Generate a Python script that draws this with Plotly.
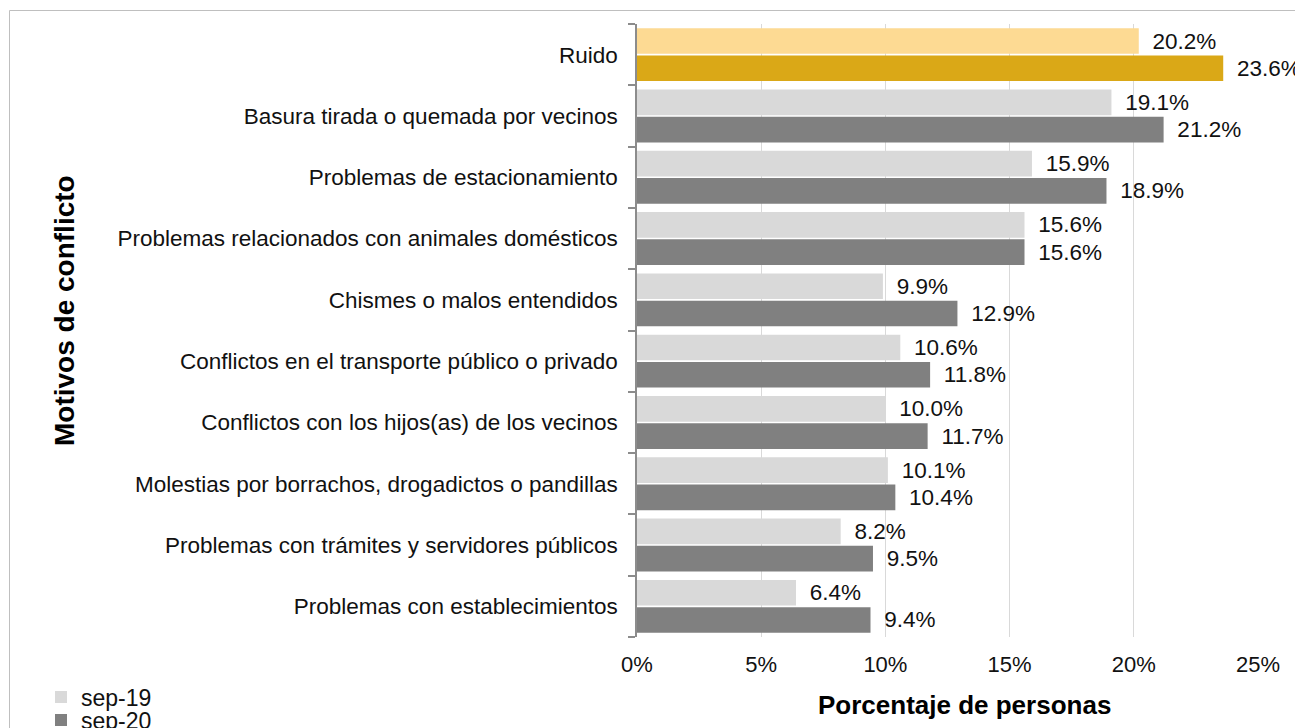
import plotly.graph_objects as go

# Data (listed bottom to top)
categories = [
    "Problemas con establecimientos",
    "Problemas con trámites y servidores públicos",
    "Molestias por borrachos, drogadictos o pandillas",
    "Conflictos con los hijos(as) de los vecinos",
    "Conflictos en el transporte público o privado",
    "Chismes o malos entendidos",
    "Problemas relacionados con animales domésticos",
    "Problemas de estacionamiento",
    "Basura tirada o quemada por vecinos",
    "Ruido",
]
sep19 = [6.4, 8.2, 10.1, 10.0, 10.6, 9.9, 15.6, 15.9, 19.1, 20.2]
sep20 = [9.4, 9.5, 10.4, 11.7, 11.8, 12.9, 15.6, 18.9, 21.2, 23.6]
x_ticks = [0, 5, 10, 15, 20, 25]
x_tick_labels = ["0%", "5%", "10%", "15%", "20%", "25%"]

highlight = "Ruido"
c19 = ["#FDDA93" if c == highlight else "#D9D9D9" for c in categories]
c20 = ["#DAA817" if c == highlight else "#808080" for c in categories]

FONT = "Liberation Sans, Arial, sans-serif"
TXT = "#111111"

OFF = 8  # page body margin
W, H = 1295, 720
L, R, T, B = 637 - OFF, W - (1258 - OFF), 24 - OFF, H - (637 - OFF)
pw, ph = W - L - R, H - T - B


def px(page_x):
    return (page_x - OFF - L) / pw


def py(page_y):
    return (H - B - (page_y - OFF)) / ph


fig = go.Figure()
fig.add_trace(go.Bar(
    y=categories, x=sep20, orientation="h", name="sep-20", legend="legend2",
    marker=dict(color=c20, line=dict(width=0)),
    text=[f" \u2009{v:.1f}%" for v in sep20], textposition="outside",
    textfont=dict(family=FONT, size=22.5, color=TXT), cliponaxis=False,
))
fig.add_trace(go.Bar(
    y=categories, x=sep19, orientation="h", name="sep-19", legend="legend",
    marker=dict(color=c19, line=dict(width=0)),
    text=[f" \u2009{v:.1f}%" for v in sep19], textposition="outside",
    textfont=dict(family=FONT, size=22.5, color=TXT), cliponaxis=False,
))

legend_common = dict(
    xanchor="left", yanchor="middle", font=dict(size=23, family=FONT, color=TXT),
    itemwidth=30, bgcolor="rgba(0,0,0,0)", borderwidth=0,
    itemclick=False, itemdoubleclick=False,
)

fig.update_layout(
    width=W, height=H,
    margin=dict(l=L, r=R, t=T, b=B, autoexpand=False),
    barmode="group", bargap=0.11, bargroupgap=0.06,
    paper_bgcolor="white", plot_bgcolor="white",
    font=dict(family=FONT, size=22, color=TXT),
    showlegend=True,
    legend=dict(x=px(41), y=py(697), **legend_common),
    legend2=dict(x=px(41), y=py(720), **legend_common),
    xaxis=dict(
        range=[0, 25], tickvals=x_ticks, ticktext=x_tick_labels,
        showgrid=True, gridcolor="#D9D9D9", gridwidth=1,
        zeroline=False, showline=False, ticks="",
        tickfont=dict(size=22), ticklabelstandoff=12,
    ),
    yaxis=dict(
        type="category", categoryorder="array", categoryarray=categories,
        showline=True, linecolor="#8C8C8C", linewidth=1.5,
        ticks="outside", tickson="boundaries", ticklen=7, tickcolor="#8C8C8C",
        tickwidth=1.5,
        tickfont=dict(size=22.5), ticklabelstandoff=13, showgrid=False,
    ),
    annotations=[
        dict(text="<b>Motivos de conflicto</b>", xref="paper", yref="paper",
             x=px(64), y=py(311), xanchor="center", yanchor="middle",
             textangle=-90, showarrow=False,
             font=dict(size=28, family=FONT, color="#000")),
        dict(text="<b>Porcentaje de personas</b>", xref="paper", yref="paper",
             x=px(964), y=py(705), xanchor="center", yanchor="middle",
             showarrow=False,
             font=dict(size=26, family=FONT, color="#000")),
    ],
    shapes=[
        dict(type="rect", xref="paper", yref="paper",
             x0=px(9.5), x1=px(1301.5), y0=py(760), y1=py(10.5),
             line=dict(color="#BFBFBF", width=1), fillcolor="rgba(0,0,0,0)",
             layer="below"),
    ],
)

fig.write_html("out.html")
